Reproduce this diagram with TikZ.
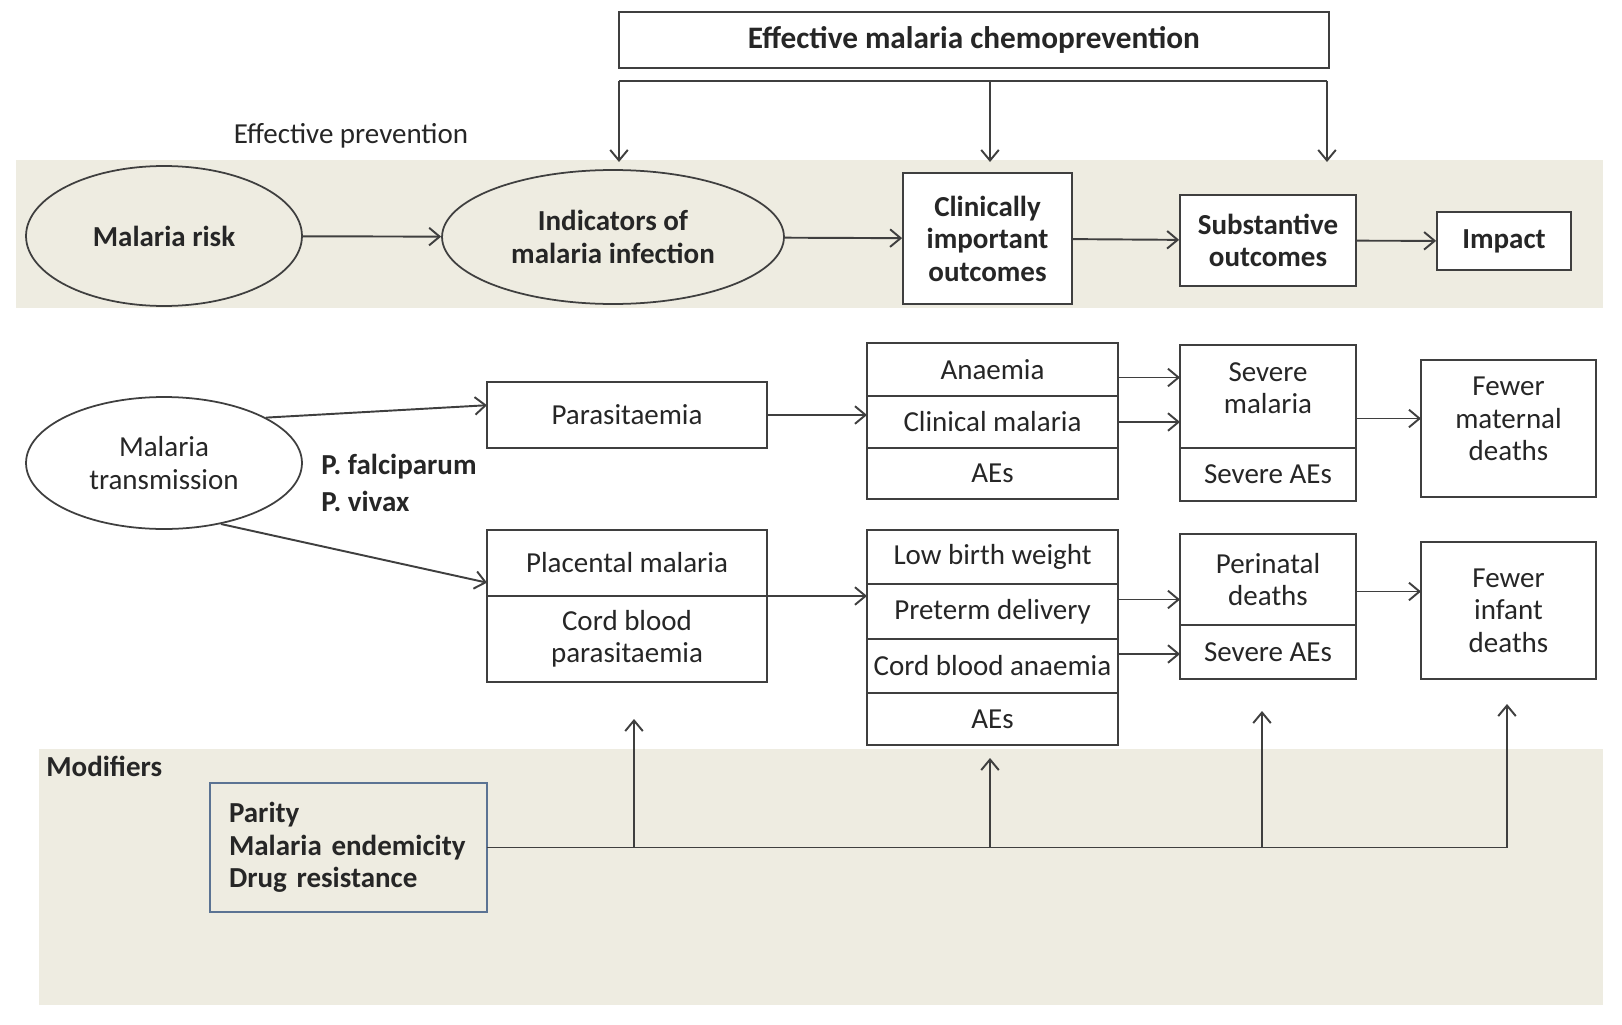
\documentclass[tikz,border=0pt]{standalone}
\usepackage{fontspec}
\setmainfont{Carlito}
\usetikzlibrary{arrows.meta, positioning, calc, shapes.geometric}
\definecolor{cBand}{HTML}{EEECE1}
\definecolor{cLine}{HTML}{3F3F3F}
\definecolor{cText}{HTML}{262626}
\definecolor{cMod}{HTML}{5B7393}
\tikzset{
  txt/.style={font=\fontsize{16.5}{18.5}\selectfont, text=cText},
  btxt/.style={font=\bfseries\fontsize{16.5}{18.5}\selectfont, text=cText},
  oval/.style={ellipse, draw=cLine, line width=1pt, align=center, inner sep=0pt, txt},
  hbox/.style={rectangle, draw=cLine, line width=1pt, fill=white, align=center,
    inner sep=2pt, btxt},
  cell/.style={rectangle, draw=cLine, line width=1pt, fill=white, align=center,
    inner sep=2pt, outer sep=0pt, txt},
  band/.style={fill=cBand, draw=none},
  arr/.style={-{Straight Barb[length=6pt, width=10pt]}, line width=1.1pt, cLine},
  wire/.style={line width=1.1pt, cLine},
}

\begin{document}
\begin{tikzpicture}[x=0.02cm, y=-0.02cm]
  \useasboundingbox (0,0) rectangle (1622,1024);

  % Shaded bands
  \fill[band] (16,160) rectangle (1603,308);
  \fill[band] (39,749) rectangle (1603,1005);

  % Top row
  \node[hbox, minimum width=14.2cm, minimum height=1.12cm,
        font=\bfseries\fontsize{17.8}{20}\selectfont] (chemo) at (974,40)
    {Effective malaria chemoprevention};
  \node[txt] (prev) at (351,136) {Effective prevention};
  \node[oval, btxt, fill=cBand, minimum width=5.52cm, minimum height=2.8cm]
    (risk) at (164,236) {Malaria risk};
  \node[oval, btxt, fill=cBand, minimum width=6.84cm, minimum height=2.68cm]
    (indic) at (613,237) {Indicators of\\malaria infection};
  \node[hbox, minimum width=3.38cm, minimum height=2.62cm] (clin) at (987.5,238.5)
    {Clinically\\important\\outcomes};
  \node[hbox, minimum width=3.52cm, minimum height=1.82cm] (subst) at (1268,240.5)
    {Substantive\\outcomes};
  \node[hbox, minimum width=2.68cm, minimum height=1.16cm] (impact) at (1504,241)
    {Impact};

  % Transmission and pathways
  \node[oval, fill=white, minimum width=5.52cm, minimum height=2.64cm]
    (trans) at (164,463) {Malaria\\transmission};
  \node[btxt, anchor=west, align=left, inner sep=0pt] (spec) at (321,483)
    {P. falciparum\\[0.09cm]P. vivax};

  \node[cell, minimum width=5.6cm, minimum height=1.32cm] (para) at (627,415)
    {Parasitaemia};
  \node[cell, minimum width=5.6cm, minimum height=1.32cm] (plac) at (627,563)
    {Placental malaria};
  \node[cell, minimum width=5.6cm, minimum height=1.72cm, below=0pt of plac]
    (cpar) {Cord blood\\parasitaemia};

  \node[cell, minimum width=5.02cm, minimum height=1.06cm] (anaem) at (992.5,369.5)
    {Anaemia};
  \node[cell, minimum width=5.02cm, minimum height=1.04cm, below=0pt of anaem]
    (clinmal) {Clinical malaria};
  \node[cell, minimum width=5.02cm, minimum height=1.02cm, below=0pt of clinmal]
    (aes1) {AEs};

  \node[cell, minimum width=5.02cm, minimum height=1.08cm] (lbw) at (992.5,557)
    {Low birth weight};
  \node[cell, minimum width=5.02cm, minimum height=1.1cm, below=0pt of lbw]
    (pret) {Preterm delivery};
  \node[cell, minimum width=5.02cm, minimum height=1.08cm, below=0pt of pret]
    (cordan) {Cord blood anaemia};
  \node[cell, minimum width=5.02cm, minimum height=1.04cm, below=0pt of cordan]
    (aes2) {AEs};

  \node[cell, minimum width=3.52cm, minimum height=2.06cm] (sevmal) at (1268,396.5)
    {Severe\\malaria\\[-0.31cm]};
  \node[cell, minimum width=3.52cm, minimum height=1.06cm, below=0pt of sevmal]
    (sae1) {Severe AEs};
  \node[cell, minimum width=3.52cm, minimum height=1.82cm] (peri) at (1268,579.5)
    {Perinatal\\deaths};
  \node[cell, minimum width=3.52cm, minimum height=1.08cm, below=0pt of peri]
    (sae2) {Severe AEs};

  \node[cell, minimum width=3.5cm, minimum height=2.74cm] (mat) at (1508.5,428.5)
    {Fewer\\maternal\\deaths\\[-0.27cm]};
  \node[cell, minimum width=3.5cm, minimum height=2.74cm] (inf) at (1508.5,610.5)
    {Fewer\\infant\\deaths};

  % Modifiers
  \node[btxt, anchor=west, inner sep=0pt] (modlbl) at (46,766) {Modifiers};
  \node[cell, btxt, draw=cMod, fill=cBand, align=left, text width=4.78cm,
        inner xsep=0.38cm, minimum height=2.58cm] (modbox) at (348.5,847.5)
    {Parity\\Malaria endemicity\\Drug resistance};

  % Arrows: top row
  \draw[arr] (risk) -- (indic);
  \draw[arr] (indic) -- (clin);
  \draw[arr] (clin) -- (subst);
  \draw[arr] (subst) -- (impact);

  % Chemoprevention bracket
  \coordinate (brL) at (619,81);
  \coordinate (brM) at (990,81);
  \coordinate (brR) at (1327,81);
  \draw[wire] (brL) -- (brR);
  \foreach \c in {brL,brM,brR}
    \draw[arr] (\c) -- ++(0,81);

  % Arrows: pathways
  \draw[arr] (trans.24) -- (para.176);
  \draw[arr] (trans.-47) -- (plac.188);
  \draw[arr] (para.east) -- (para.east -| clinmal.west);
  \draw[arr] (plac.south east) -- (plac.south east -| pret.west);
  \draw[arr] ($(anaem.east)+(0,8)$) -- ($(anaem.east -| sevmal.west)+(0,8)$);
  \draw[arr] (clinmal.east) -- (clinmal.east -| sevmal.west);
  \draw[arr] ($(sevmal.east)+(0,22)$) -- ($(sevmal.east -| mat.west)+(0,22)$);
  \draw[arr] ($(pret.east)+(0,-12)$) -- ($(pret.east -| peri.west)+(0,-12)$);
  \draw[arr] ($(cordan.east)+(0,-12)$) -- ($(cordan.east -| sae2.west)+(0,-12)$);
  \draw[arr] ($(peri.east)+(0,12)$) -- ($(peri.east -| inf.west)+(0,12)$);

  % Modifier connectors
  \coordinate (m1) at (634,719);
  \coordinate (m2) at (990,758);
  \coordinate (m3) at (1262,711);
  \coordinate (m4) at (1507,704);
  \draw[wire] (modbox.east) -- (modbox.east -| m4);
  \foreach \m in {m1,m2,m3,m4}
    \draw[arr] (modbox.east -| \m) -- (\m);

\end{tikzpicture}
\end{document}
